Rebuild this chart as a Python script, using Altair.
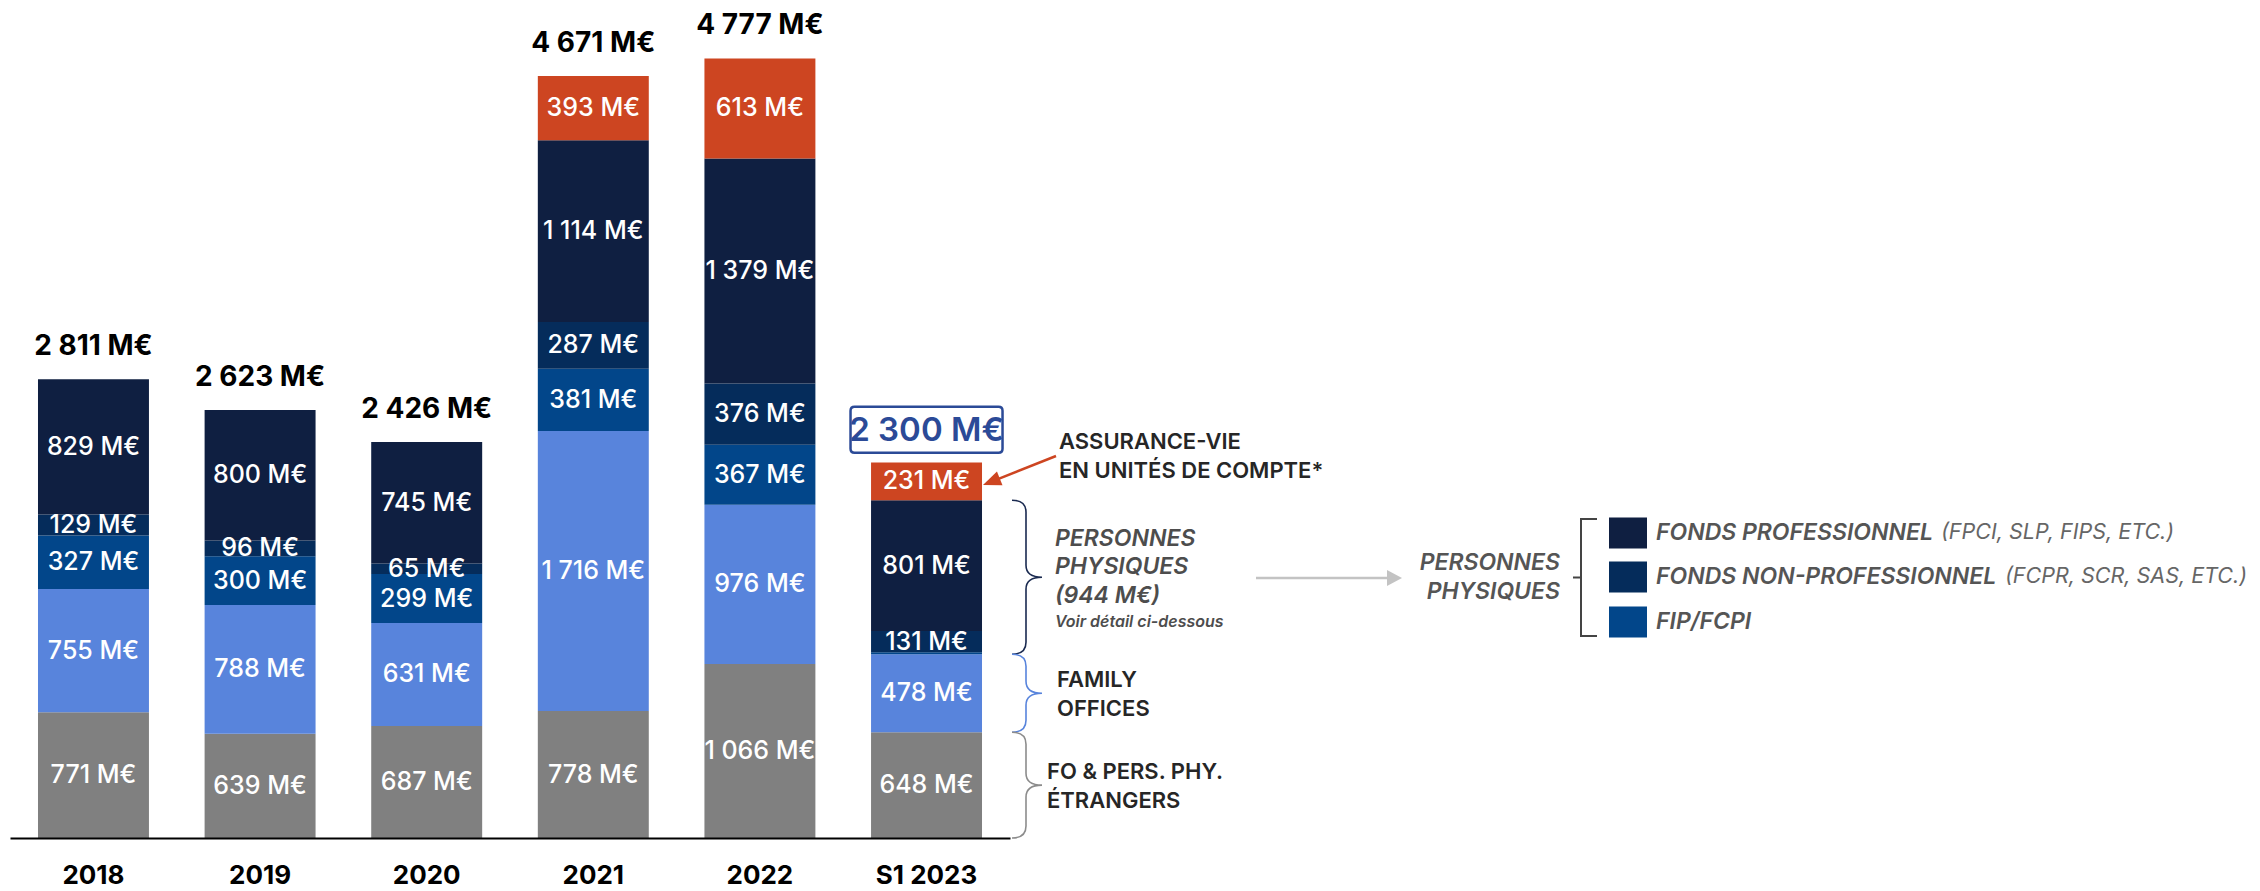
import math
import altair as alt
import pandas as pd

# ---------------- data ----------------
years = ["2018", "2019", "2020", "2021", "2022", "S1 2023"]
fo_pers_phy_etrangers = [771, 639, 687, 778, 1066, 648]
family_offices = [755, 788, 631, 1716, 976, 478]
fip_fcpi = [327, 300, 299, 381, 367, 12]
fonds_non_pro = [129, 96, 65, 287, 376, 131]
fonds_pro = [829, 800, 745, 1114, 1379, 801]
assurance_vie_uc = [0, 0, 0, 393, 613, 231]
totals = [2811, 2623, 2426, 4671, 4777, 2300]
personnes_physiques_s1_2023 = 944

series_names = ["FO & PERS. PHY. ÉTRANGERS", "FAMILY OFFICES", "FIP/FCPI",
                "FONDS NON-PROFESSIONNEL", "FONDS PROFESSIONNEL",
                "ASSURANCE-VIE EN UNITÉS DE COMPTE"]
series_values = [fo_pers_phy_etrangers, family_offices, fip_fcpi,
                 fonds_non_pro, fonds_pro, assurance_vie_uc]
series_colors = ["#808080", "#5884DC", "#02468A", "#052C5B", "#0F1F41", "#CD4521"]

legend_bold = ["FONDS PROFESSIONNEL", "FONDS NON-PROFESSIONNEL", "FIP/FCPI"]
legend_light = ["(FPCI, SLP, FIPS, ETC.)", "(FCPR, SCR, SAS, ETC.)", ""]
legend_colors = ["#0F1F41", "#052C5B", "#02468A"]


def fmt(v):
    return f"{v:,}".replace(",", " ") + " M€"


# ---------------- layout ----------------
W, H = 1000, 830
YMAX = 5086
FONT = "Inter"


def ypx(v):
    return H - v * H / YMAX


rows = []
for i, yr in enumerate(years):
    base = 0
    for s, vals in enumerate(series_values):
        v = vals[i]
        if v <= 0:
            continue
        rows.append(dict(year=yr, series=series_names[s], order=s, v=v,
                         y0=base, y1=base + v, mid=base + v / 2,
                         label=fmt(v) if v >= 50 else ""))
        base += v
df = pd.DataFrame(rows)

tot = pd.DataFrame(dict(year=years, total=totals, label=[fmt(t) for t in totals]))
tot_plain = tot[tot.year != "S1 2023"]
tot_box = tot[tot.year == "S1 2023"]

xenc = alt.X("year:N", sort=years,
             scale=alt.Scale(paddingInner=0.334, paddingOuter=0.168),
             axis=alt.Axis(title=None, labelAngle=0, labelFont=FONT, labelFontSize=26,
                           labelFontWeight="bold", labelColor="#000000", ticks=False,
                           tickSize=0, domainColor="#000000", domainWidth=2,
                           labelPadding=37, labelBaseline="middle", zindex=1))
yscale = alt.Scale(domain=[0, YMAX], nice=False, zero=True)

bars = alt.Chart(df).mark_bar().encode(
    x=xenc,
    y=alt.Y("y0:Q", scale=yscale, axis=None),
    y2="y1",
    color=alt.Color("series:N", scale=alt.Scale(domain=series_names, range=series_colors),
                    legend=None),
)

seg_labels = alt.Chart(df).mark_text(font=FONT, fontSize=25, fontWeight=500,
                                     color="#ffffff", baseline="middle").encode(
    x=alt.X("year:N", sort=years), y=alt.Y("mid:Q", scale=yscale), text="label:N")

tot_labels = alt.Chart(tot_plain).mark_text(font=FONT, fontSize=28, fontWeight="bold",
                                            color="#000000", baseline="alphabetic",
                                            dy=-24).encode(
    x=alt.X("year:N", sort=years), y=alt.Y("total:Q", scale=yscale), text="label:N")

box_path = ("M-72,-23 H72 Q76,-23 76,-19 V19 Q76,23 72,23 H-72 Q-76,23 -76,19 "
            "V-19 Q-76,-23 -72,-23 Z")
box = alt.Chart(tot_box).mark_point(shape=box_path, size=4, filled=False, opacity=1,
                                    stroke="#2B4A97", strokeWidth=2.5, yOffset=-33).encode(
    x=alt.X("year:N", sort=years), y=alt.Y("total:Q", scale=yscale))
box_text = alt.Chart(tot_box).mark_text(font=FONT, fontSize=33, fontWeight=600,
                                        color="#2B4A97", baseline="middle", dy=-32).encode(
    x=alt.X("year:N", sort=years), y=alt.Y("total:Q", scale=yscale), text="label:N")

# ---------------- annotations (pixel positions in plot area) ----------------
def text_layer(items, **kw):
    d = pd.DataFrame(items, columns=["t", "px", "py"])
    return alt.Chart(d).mark_text(font=FONT, **kw).encode(
        x=alt.X("px:Q", scale=None, axis=None),
        y=alt.Y("py:Q", scale=None, axis=None),
        text="t:N")


dark_txt = text_layer([
    ("ASSURANCE-VIE", 1049, 441), ("EN UNITÉS DE COMPTE*", 1049, 470),
    ("FAMILY", 1047, 679), ("OFFICES", 1047, 708),
    ("FO & PERS. PHY.", 1037, 771), ("ÉTRANGERS", 1037, 800),
], fontSize=22, fontWeight=600, color="#262626", align="left", baseline="alphabetic")

pp_txt = text_layer([
    ("PERSONNES", 1045, 538), ("PHYSIQUES", 1045, 566),
    (f"({personnes_physiques_s1_2023} M€)", 1045, 595),
], fontSize=23, fontWeight=600, fontStyle="italic", color="#4D4D4D", align="left",
    baseline="alphabetic")
pp_small = text_layer([("Voir détail ci-dessous", 1045, 619)], fontSize=16, fontWeight=600,
                      fontStyle="italic", color="#4D4D4D", align="left", baseline="alphabetic")

leg_title = text_layer([("PERSONNES", 1550, 555), ("PHYSIQUES", 1550, 584)],
                       fontSize=23, fontWeight=600, fontStyle="italic", color="#555555",
                       align="right", baseline="middle")
leg_ys = [525, 569, 614]
leg_bold = text_layer([(t, 1646, y) for t, y in zip(legend_bold, leg_ys)],
                      fontSize=23, fontWeight=600, fontStyle="italic", color="#555555",
                      align="left", baseline="middle")
leg_light = text_layer([(t, x, y) for t, x, y in zip(legend_light, [1931, 1995, 0], leg_ys) if t],
                       fontSize=21.5, fontWeight=400, fontStyle="italic", color="#666666",
                       align="left", baseline="middle")

sq = pd.DataFrame(dict(x0=[1599] * 3, x1=[1637] * 3, y0=[y - 15.5 for y in leg_ys],
                       y1=[y + 15.5 for y in leg_ys], c=legend_colors))
squares = alt.Chart(sq).mark_rect().encode(
    x=alt.X("x0:Q", scale=None, axis=None), x2="x1",
    y=alt.Y("y0:Q", scale=None, axis=None), y2="y1",
    fill=alt.Fill("c:N", scale=None))


def brace(h, left=14, tip=16, r=12):
    hh = h / 2
    return (f"M{-left},{-hh} Q0,{-hh} 0,{-hh + r} L0,{-r} Q0,0 {tip},0 "
            f"Q0,0 0,{r} L0,{hh - r} Q0,{hh} {-left},{hh}")


# 2023 stack boundaries
i23 = years.index("S1 2023")
b_grey = fo_pers_phy_etrangers[i23]
b_fo = b_grey + family_offices[i23]
b_pp = b_fo + fip_fcpi[i23] + fonds_non_pro[i23] + fonds_pro[i23]
bx = 1016
braces = [
    (bx, (ypx(b_fo) + ypx(b_pp)) / 2, brace(ypx(b_fo) - ypx(b_pp)), "#1A2A50", 1.6),
    (bx, (ypx(b_grey) + ypx(b_fo)) / 2, brace(ypx(b_grey) - ypx(b_fo)), "#5884DC", 1.6),
    (bx, (ypx(0) + ypx(b_grey)) / 2, brace(ypx(0) - ypx(b_grey)), "#8C8C8C", 1.6),
    (0, 0, "M1587,511 H1571 V628 H1587 M1563,569.5 H1571", "#444444", 2),
]
bd = pd.DataFrame(braces, columns=["px", "py", "path", "c", "sw"])
brace_layer = alt.Chart(bd).mark_point(size=4, filled=False, opacity=1).encode(
    x=alt.X("px:Q", scale=None, axis=None), y=alt.Y("py:Q", scale=None, axis=None),
    shape=alt.Shape("path:N", scale=None), stroke=alt.Stroke("c:N", scale=None),
    strokeWidth=alt.StrokeWidth("sw:Q", scale=None))

# orange arrow
sx, sy, tx, ty = 1046, 448, 973, 477
dx, dy = tx - sx, ty - sy
L = math.hypot(dx, dy)
ux, uy = dx / L, dy / L
hl, hw = 18, 7.5
bcx, bcy = -hl * ux, -hl * uy
px_, py_ = -uy * hw, ux * hw
head_o = f"M0,0 L{bcx + px_:.2f},{bcy + py_:.2f} L{bcx - px_:.2f},{bcy - py_:.2f} Z"
head_g = "M0,0 L-15,-8 L-15,8 Z"

lines = pd.DataFrame(dict(x0=[sx, 1246], y0=[sy, 570], x1=[tx + bcx + 2 * ux, 1378],
                          y1=[ty + bcy + 2 * uy, 570], c=["#CD4521", "#C3C3C3"],
                          sw=[2.5, 2.5]))
line_layer = alt.Chart(lines).mark_rule().encode(
    x=alt.X("x0:Q", scale=None, axis=None), y=alt.Y("y0:Q", scale=None, axis=None),
    x2="x1", y2="y1", color=alt.Color("c:N", scale=None),
    strokeWidth=alt.StrokeWidth("sw:Q", scale=None))

heads = pd.DataFrame(dict(px=[tx, 1392], py=[ty, 570], path=[head_o, head_g],
                          c=["#CD4521", "#C3C3C3"]))
head_layer = alt.Chart(heads).mark_point(size=4, filled=True, opacity=1).encode(
    x=alt.X("px:Q", scale=None, axis=None), y=alt.Y("py:Q", scale=None, axis=None),
    shape=alt.Shape("path:N", scale=None), fill=alt.Fill("c:N", scale=None))

chart = alt.layer(
    bars, seg_labels, tot_labels, box, box_text,
    dark_txt, pp_txt, pp_small, leg_title, leg_bold, leg_light, squares,
    brace_layer, line_layer, head_layer,
).properties(
    width=W, height=H,
    autosize=alt.AutoSizeParams(type="none"),
    padding={"left": 2, "top": 0, "right": 1242, "bottom": 53},
).configure(font=FONT).configure_view(stroke=None, strokeWidth=0)

chart.save("out.html", embed_options={"renderer": "svg", "actions": False})
